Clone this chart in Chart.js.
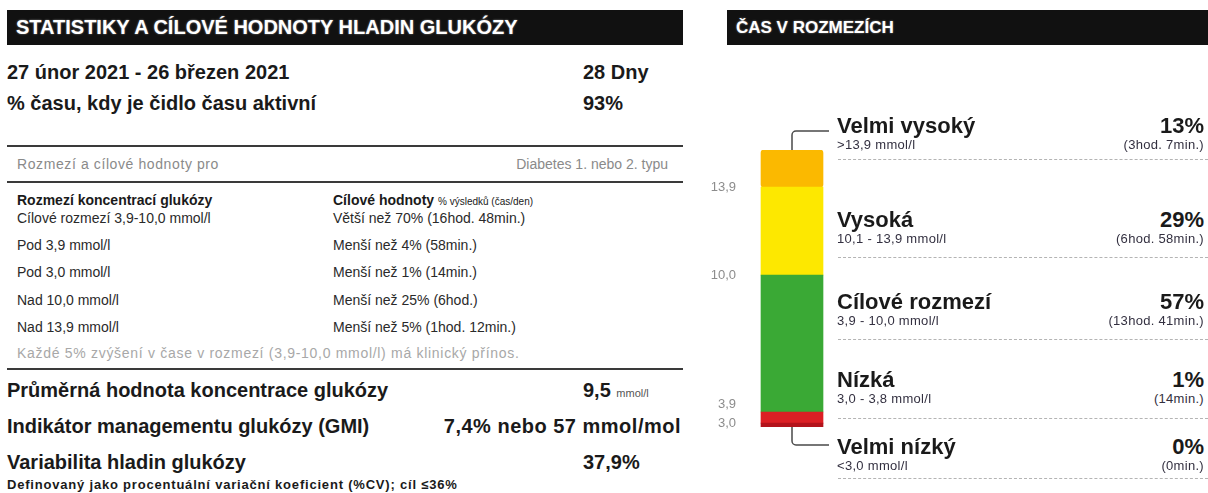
<!DOCTYPE html>
<html>
<head>
<meta charset="utf-8">
<script src="https://cdn.jsdelivr.net/npm/chart.js@4.4.1/dist/chart.umd.min.js"></script>
<style>
  body { margin: 0; width: 1208px; height: 493px; position: relative; overflow: hidden; background: #fff;
         font-family: "Liberation Sans", Arial, sans-serif; color: #1a1a1a; }
  .t { position: absolute; height: 30px; line-height: 30px; white-space: nowrap; }
  .head { position: absolute; top: 10px; height: 35px; line-height: 35px; background: #111; color: #fff;
          font-weight: bold; padding-left: 9px; box-sizing: border-box;
          text-shadow: 0 0 2px rgba(255,255,255,0.5); }
  .rule { position: absolute; left: 7px; width: 676px; height: 2px; background: #3a3a3a; }
  .dash { position: absolute; left: 838px; width: 370px; border-top: 1px dashed #b4b4b4; }
  #wrap { position: absolute; left: 700px; top: 120px; width: 150px; height: 340px; }
</style>
</head>
<body>
<div class="head" style="left:7px;width:676px;font-size:20px">STATISTIKY A CÍLOVÉ HODNOTY HLADIN GLUKÓZY</div>
<div class="head" style="left:727px;width:481px;font-size:17px">ČAS V ROZMEZÍCH</div>
<div class="rule" style="top:145px"></div>
<div class="rule" style="top:181px"></div>
<div class="rule" style="top:368px"></div>
<div id="wrap"><canvas id="tir" width="150" height="340"></canvas></div>

<script>
// statistiky
const period = '27 únor 2021 - 26 březen 2021'
const periodDays = '28 Dny'
const sensorActive = '93%'
const targetFor = 'Diabetes 1. nebo 2. typu'
const targetRanges = ['Cílové rozmezí 3,9-10,0 mmol/l', 'Pod 3,9 mmol/l', 'Pod 3,0 mmol/l', 'Nad 10,0 mmol/l', 'Nad 13,9 mmol/l']
const targetGoals = ['Větší než 70% (16hod. 48min.)', 'Menší než 4% (58min.)', 'Menší než 1% (14min.)', 'Menší než 25% (6hod.)', 'Menší než 5% (1hod. 12min.)']
const meanGlucose = '9,5'
const gmi = '7,4% nebo 57 mmol/mol'
const variability = '37,9%'

// čas v rozmezích (od nejnižšího)
const rangeNames = ['Velmi nízký', 'Nízká', 'Cílové rozmezí', 'Vysoká', 'Velmi vysoký']
const rangeLimits = ['<3,0 mmol/l', '3,0 - 3,8 mmol/l', '3,9 - 10,0 mmol/l', '10,1 - 13,9 mmol/l', '>13,9 mmol/l']
const rangePercent = [0, 1, 57, 29, 13]
const rangeTime = ['(0min.)', '(14min.)', '(13hod. 41min.)', '(6hod. 58min.)', '(3hod. 7min.)']
// segment heights as the report draws them (% of the bar; small ranges are stretched)
const barShare = [1.4, 4.0, 49.4, 31.8, 13.4]
const boundaryLabels = ['3,0', '3,9', '10,0', '13,9']

const rangeColors = ['#b3131b', '#dc1f24', '#3aa935', '#fde800', '#fbb900']

function put(html, x, y, style, right) {
  const el = document.createElement('div')
  el.className = 't'
  el.innerHTML = html
  el.style.cssText = style
  el.style.top = (y - 15) + 'px'
  if (right) el.style.right = (1208 - x) + 'px'
  else el.style.left = x + 'px'
  document.body.appendChild(el)
}

const big = 'font-weight:bold;font-size:20px;'
const small = 'font-size:14px;color:#2a2a2a;'
put(period, 7, 72, big)
put(periodDays, 583, 72, big)
put('% času, kdy je čidlo času aktivní', 7, 103, big)
put(sensorActive, 583, 103, big)

put('Rozmezí a cílové hodnoty pro', 17, 164, 'font-size:14px;color:#8a8a8a;letter-spacing:0.6px')
put(targetFor, 668, 164, 'font-size:14px;color:#8a8a8a', true)
put('Rozmezí koncentrací glukózy', 17, 200, 'font-size:14px;font-weight:bold')
put('Cílové hodnoty <span style="font-weight:normal;font-size:10px">% výsledků (čas/den)</span>', 333, 200, 'font-size:14px;font-weight:bold')
const rowY = [218, 245, 272, 300, 327]
targetRanges.forEach((r, i) => {
  put(r, 17, rowY[i], small)
  put(targetGoals[i], 333, rowY[i], small)
})
put('Každé 5% zvýšení v čase v rozmezí (3,9-10,0 mmol/l) má klinický přínos.', 17, 353, 'font-size:14px;color:#a8a8a8;letter-spacing:0.7px')

put('Průměrná hodnota koncentrace glukózy', 7, 390, big)
put(meanGlucose + ' <span style="font-weight:normal;font-size:11px;color:#555">mmol/l</span>', 583, 390, big)
put('Indikátor managementu glukózy (GMI)', 7, 426, big)
put(gmi, 681, 426, big + 'letter-spacing:0.5px', true)
put('Variabilita hladin glukózy', 7, 462, big)
put(variability, 583, 462, big)
put('Definovaný jako procentuální variační koeficient (%CV); cíl ≤36%', 7, 485, 'font-weight:bold;font-size:13px;letter-spacing:0.8px')

// pravý panel: popisky rozmezí
const titleY = [447, 380, 302, 220, 126]
const dashY = [478, 418, 339, 257, 159]
const sub = 'font-size:13px;letter-spacing:0.3px;color:#333040'
rangeNames.forEach((name, i) => {
  put(name, 837, titleY[i], 'font-weight:bold;font-size:22px')
  put(rangeLimits[i], 837, titleY[i] + 19, sub)
  put(rangePercent[i] + '%', 1204, titleY[i], 'font-weight:bold;font-size:22px', true)
  put(rangeTime[i], 1204, titleY[i] + 19, sub, true)
  const d = document.createElement('div')
  d.className = 'dash'
  d.style.top = dashY[i] + 'px'
  document.body.appendChild(d)
})

// cumulative boundaries for the axis labels
const bounds = []
barShare.reduce((acc, v) => { bounds.push(acc + v); return acc + v }, 0)

// elbow lines from the bar ends to the outer labels
const connectors = {
  id: 'connectors',
  afterDatasetsDraw(chart) {
    const c = chart.ctx
    const topBar = chart.getDatasetMeta(barShare.length - 1).data[0]
    const lowBar = chart.getDatasetMeta(0).data[0]
    const x = topBar.x
    c.save()
    c.strokeStyle = '#4a4a4a'
    c.lineWidth = 1.5
    c.beginPath()
    c.moveTo(x, topBar.y)
    c.arcTo(x, topBar.y - 19, x + 37, topBar.y - 19, 4)
    c.lineTo(x + 37, topBar.y - 19)
    c.moveTo(x, lowBar.base)
    c.arcTo(x, lowBar.base + 18, x + 37, lowBar.base + 18, 4)
    c.lineTo(x + 37, lowBar.base + 18)
    c.stroke()
    c.restore()
  }
}

new Chart(document.getElementById('tir'), {
  type: 'bar',
  data: {
    labels: ['TIR'],
    datasets: rangeNames.map((name, i) => ({
      label: name,
      data: [barShare[i]],
      backgroundColor: rangeColors[i],
      borderSkipped: false,
      borderRadius: 3,
      barThickness: 62
    }))
  },
  options: {
    responsive: false,
    animation: false,
    layout: { padding: { top: 30, bottom: 33, right: 6 } },
    plugins: { legend: { display: false }, tooltip: { enabled: false } },
    scales: {
      x: { stacked: true, display: false },
      y: {
        stacked: true,
        min: 0,
        max: 100,
        grid: { display: false, drawTicks: false },
        border: { display: false },
        afterBuildTicks: (s) => { s.ticks = bounds.slice(0, boundaryLabels.length).map(v => ({ value: v })) },
        afterFit: (s) => { s.width = 40 },
        ticks: {
          // the two low limits sit close together, push "3,9" up half a line
          callback: (v, i) => i === 1 ? [boundaryLabels[i], ''] : boundaryLabels[i],
          color: '#8c8c8c',
          font: { family: '"Liberation Sans", Arial, sans-serif', size: 13 },
          padding: 4
        }
      }
    }
  },
  plugins: [connectors]
})
</script>
</body>
</html>
